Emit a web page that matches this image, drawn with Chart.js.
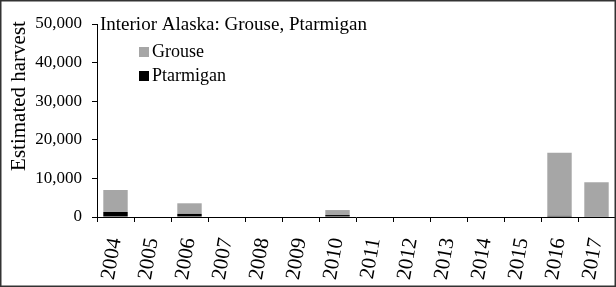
<!DOCTYPE html>
<html>
<head>
<meta charset="utf-8">
<script src="https://cdn.jsdelivr.net/npm/chart.js@4/dist/chart.umd.min.js"></script>
<style>
  html, body { margin: 0; padding: 0; background: #fff; }
  #wrap { width: 616px; height: 287px; position: relative; }
</style>
</head>
<body>
<div id="wrap"><canvas id="c"></canvas></div>
<script>
// 年份與收穫估計
const years = ['2004', '2005', '2006', '2007', '2008', '2009', '2010', '2011', '2012', '2013', '2014', '2015', '2016', '2017'];
const ptarmigan = [1300, null, 800, null, null, null, 500, null, null, null, null, null, 300, 200];
const grouse = [5700, null, 2750, null, null, null, 1300, null, null, null, null, null, 16350, 8800];
const yTicks = [0, 10000, 20000, 30000, 40000, 50000];

const chartTitle = 'Interior Alaska: Grouse, Ptarmigan';
const yTitle = 'Estimated harvest';
const serif = '"Liberation Serif", "Times New Roman", serif';

// 標題、Y 軸標題、圖例與外框
const overlay = {
    id: 'overlay',
    afterDraw(chart) {
        const ctx = chart.ctx;
        const area = chart.chartArea;
        ctx.save();
        ctx.fillStyle = '#000';
        ctx.font = '19px ' + serif;
        ctx.textBaseline = 'middle';
        ctx.textAlign = 'left';
        ctx.fillText(chartTitle, area.left + 3, area.top + 1);

        // Y 軸標題
        ctx.save();
        ctx.translate(19, 96);
        ctx.rotate(-Math.PI / 2);
        ctx.textAlign = 'center';
        ctx.font = '21px ' + serif;
        ctx.fillText(yTitle, 0, 0);
        ctx.restore();

        // 圖例：Grouse 在上
        const items = [...chart.data.datasets].reverse();
        ctx.font = '18px ' + serif;
        items.forEach((ds, i) => {
            const y = area.top + 28 + i * 24;
            ctx.fillStyle = ds.backgroundColor;
            ctx.fillRect(area.left + 42, y - 5, 10, 10);
            ctx.fillStyle = '#000';
            ctx.fillText(ds.label, area.left + 55, y);
        });

        ctx.strokeStyle = '#333';
        ctx.lineWidth = 1.5;
        ctx.strokeRect(0.75, 0.75, chart.width - 1.5, chart.height - 1.5);
        ctx.restore();
    }
};

new Chart(document.getElementById('c'), {
    type: 'bar',
    data: {
        labels: years,
        datasets: [
            { label: 'Ptarmigan', data: ptarmigan, backgroundColor: '#000000', barPercentage: 0.66, categoryPercentage: 1 },
            { label: 'Grouse', data: grouse, backgroundColor: '#a6a6a6', barPercentage: 0.66, categoryPercentage: 1 }
        ]
    },
    options: {
        responsive: true,
        maintainAspectRatio: false,
        animation: false,
        layout: { padding: { left: 0, right: 1, top: 24, bottom: 0 } },
        plugins: {
            legend: { display: false },
            tooltip: { enabled: false }
        },
        scales: {
            x: {
                stacked: true,
                grid: { offset: true, drawOnChartArea: false, color: '#000', tickLength: 5, lineWidth: 1 },
                border: { color: '#000', width: 1 },
                ticks: {
                    color: '#000',
                    font: { family: serif, size: 21 },
                    maxRotation: 80,
                    minRotation: 80,
                    autoSkip: false,
                    padding: 14
                },
                afterFit(scale) {
                    scale.height = 70;
                    scale.paddingLeft = 0;
                    scale.paddingRight = 0;
                }
            },
            y: {
                stacked: true,
                min: 0,
                max: 50000,
                grid: { drawOnChartArea: false, color: '#000', tickLength: 5 },
                border: { color: '#000', width: 1 },
                afterBuildTicks(axis) {
                    // 每 5000 一個刻度，只標示 10000 的倍數
                    const t = [];
                    for (let v = 0; v <= 50000; v += 5000) t.push({ value: v });
                    axis.ticks = t;
                },
                afterFit(scale) {
                    scale.width = 97;
                    scale.paddingTop = 0;
                    scale.paddingBottom = 0;
                },
                ticks: {
                    color: '#000',
                    font: { family: serif, size: 17 },
                    padding: 10,
                    callback: v => yTicks.includes(v) ? v.toLocaleString('en-US') : ''
                }
            }
        }
    },
    plugins: [overlay]
});
</script>
</body>
</html>
